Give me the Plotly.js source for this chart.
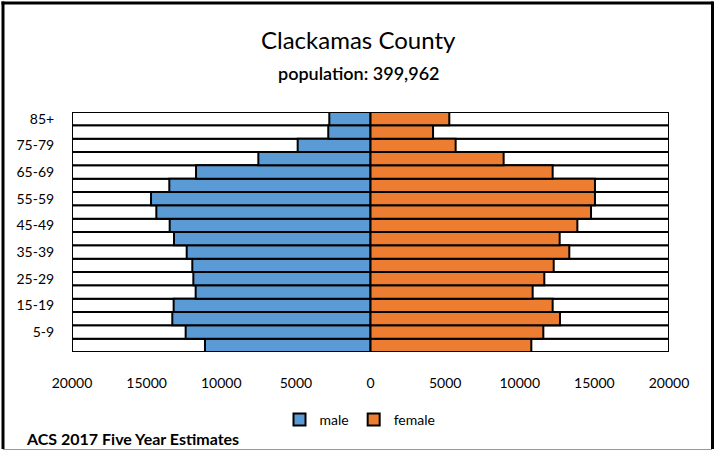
<!DOCTYPE html>
<html>
<head>
<meta charset="utf-8">
<script src="https://cdn.plot.ly/plotly-3.0.1.min.js"></script>
<style>
  html, body { margin: 0; padding: 0; background: #fff; }
  #chart { width: 714px; height: 450px; }
</style>
</head>
<body>
<div id="chart"></div>
<script>
// ---- data ----
const ageGroups = ["0-4","5-9","10-14","15-19","20-24","25-29","30-34","35-39","40-44",
                   "45-49","50-54","55-59","60-64","65-69","70-74","75-79","80-84","85+"];
const male   = [11090,12385,13280,13190,11715,11870,11940,12315,13165,
                13455,14350,14705,13480,11690,7515,4880,2830,2760];
const female = [10775,11580,12695,12205,10865,11645,12275,13320,12675,
                13860,14775,15040,15040,12205,8920,5705,4190,5280];
const axisMax = 20000;
const tickValues = [-20000,-15000,-10000,-5000,0,5000,10000,15000,20000];
const tickLabels = ["20000","15000","10000","5000","0","5000","10000","15000","20000"];
const shownAges = ["5-9","15-19","25-29","35-39","45-49","55-59","65-69","75-79","85+"];
const titleText = "Clackamas County";
const subtitleText = "population: 399,962";
const footerText = "ACS 2017 Five Year Estimates";

// ---- geometry helpers (pixel -> paper) ----
const W = 714, H = 450;
const L = 72, R = 669, T = 112, B = 352;
const px = v => (v - L) / (R - L);
const py = v => (B - v) / (B - T);

const outline = { color: "#000", width: 2 };
const fontFam = "Lato, 'Open Sans', sans-serif";

const traces = [
  { type: "bar", orientation: "h", y: ageGroups, x: ageGroups.map(() => -axisMax),
    marker: { color: "#ffffff", line: outline }, showlegend: false, hoverinfo: "skip" },
  { type: "bar", orientation: "h", y: ageGroups, x: ageGroups.map(() => axisMax),
    marker: { color: "#ffffff", line: outline }, showlegend: false, hoverinfo: "skip" },
  { type: "bar", orientation: "h", name: "male", y: ageGroups, x: male.map(v => -v),
    marker: { color: "#5B9BD5", line: outline } },
  { type: "bar", orientation: "h", name: "female", y: ageGroups, x: female,
    marker: { color: "#ED7D31", line: outline } }
];

const layout = {
  width: W, height: H,
  margin: { l: L, r: W - R, t: T, b: H - B, pad: 0 },
  paper_bgcolor: "#fff", plot_bgcolor: "#fff",
  barmode: "overlay", bargap: 0,
  font: { family: fontFam, color: "#000", size: 14 },
  xaxis: {
    range: [-axisMax, axisMax], tickvals: tickValues, ticktext: tickLabels,
    showgrid: false, zeroline: false, showline: false,
    ticks: "outside", ticklen: 18, tickcolor: "rgba(0,0,0,0)",
    tickfont: { size: 14, family: fontFam }, fixedrange: true
  },
  yaxis: {
    type: "category", categoryarray: ageGroups, range: [-0.5, ageGroups.length - 0.5],
    tickvals: shownAges, showgrid: false, zeroline: false, showline: false,
    ticks: "outside", ticklen: 14, tickcolor: "rgba(0,0,0,0)",
    tickfont: { size: 14, family: fontFam }, fixedrange: true
  },
  legend: {
    orientation: "h", x: px(360), xanchor: "center", y: py(420), yanchor: "middle",
    font: { size: 14, family: fontFam }, itemwidth: 30, bgcolor: "rgba(0,0,0,0)"
  },
  annotations: [
    { text: titleText, xref: "paper", yref: "paper", x: px(358), y: py(40),
      xanchor: "center", yanchor: "middle", showarrow: false,
      font: { size: 24, family: fontFam } },
    { text: subtitleText, xref: "paper", yref: "paper", x: px(359), y: py(73),
      xanchor: "center", yanchor: "middle", showarrow: false,
      font: { size: 18, family: fontFam, weight: 600 } },
    { text: "<b>" + footerText + "</b>", xref: "paper", yref: "paper", x: px(24), y: py(438),
      xanchor: "left", yanchor: "middle", showarrow: false,
      font: { size: 16, family: fontFam } }
  ],
  shapes: [
    { type: "line", xref: "paper", yref: "paper", x0: px(1.5), x1: px(713), y0: py(3), y1: py(3), line: { color: "#000", width: 3 } },
    { type: "line", xref: "paper", yref: "paper", x0: px(3), x1: px(3), y0: py(1.5), y1: py(449), line: { color: "#000", width: 3 } },
    { type: "line", xref: "paper", yref: "paper", x0: px(712.5), x1: px(712.5), y0: py(1.5), y1: py(449), line: { color: "#000", width: 3 } },
    { type: "line", xref: "paper", yref: "paper", x0: px(3), x1: px(712), y0: py(449.5), y1: py(449.5), line: { color: "#999", width: 1 } }
  ]
};

Plotly.newPlot("chart", traces, layout, { displayModeBar: false, staticPlot: true });
</script>
</body>
</html>
